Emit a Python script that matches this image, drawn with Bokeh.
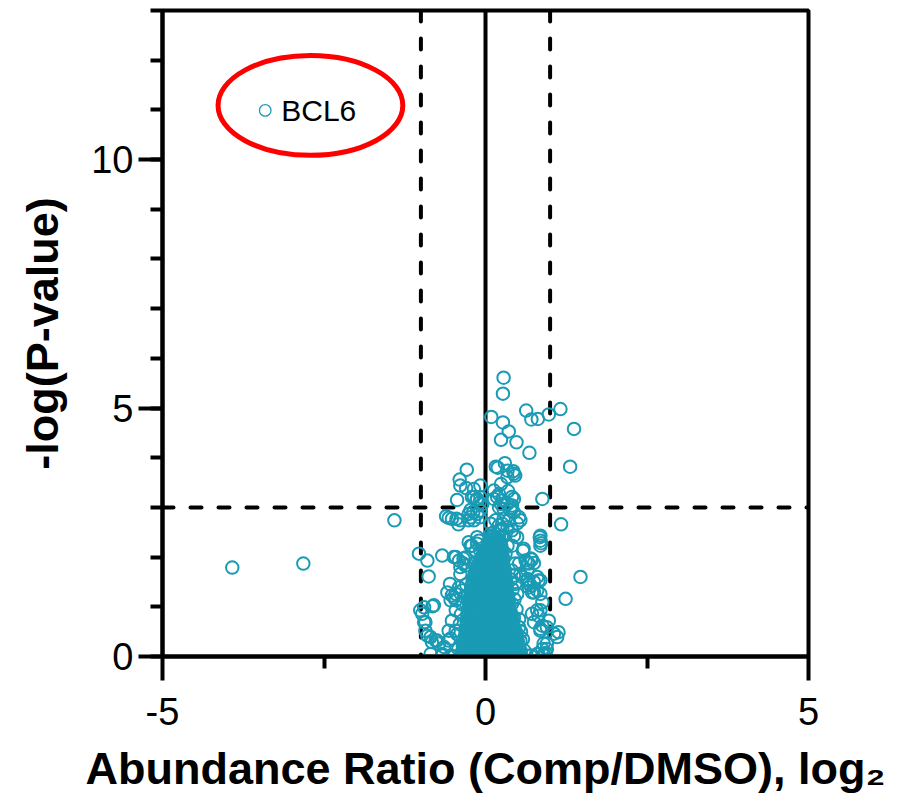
from bokeh.plotting import figure
from bokeh.models import Range1d, FixedTicker, Span, Title
from bokeh.embed import file_html
from bokeh.resources import INLINE
from bokeh.core.properties import value

# ---------------- data ----------------
# sparse proteins (log2 ratio, -log P)
upper_x = [0.28, 0.27, 0.63, 1.16, 0.98, 0.71, 0.81, 0.09, 0.27, 0.36, 1.37, 0.24, 0.48, 0.68, 1.31,
           0.30, 0.16, 0.19, 0.34, 0.43, 0.46, 0.44, 0.34,
           -0.29, -0.40, -0.30, -0.39, -0.08, -0.18, 0.24, 0.35, 0.13, 0.21, 0.18, 0.26, 0.34, 0.41,
           0.41, 0.44, 0.24, 0.13, 0.28, 0.39, 0.21, 0.40,
           -0.18, -0.14, -0.09, -0.08, -0.05, -0.13, -0.21, -0.44, 0.88,
           -0.23, -0.26, -0.19, -0.08, -0.13, -0.61, -0.57, -0.52, -0.45, -0.42, -0.39, -0.09, -0.23,
           -0.26, -0.18,
           0.44, 0.52, 0.54, 0.49, 0.36, 0.28, 0.26, 0.34, 0.21, 0.41, 0.155, 0.21, 0.26, 0.13, 0.08,
           1.17, -1.41, -3.92, -2.82]
upper_y = [5.61, 5.29, 4.95, 4.98, 4.87, 4.77, 4.78, 4.82, 4.71, 4.53, 4.58, 4.36, 4.31, 4.10, 3.82,
           3.89, 3.82, 3.80, 3.74, 3.73, 3.64, 3.68, 3.61,
           3.76, 3.56, 3.39, 3.44, 3.44, 3.37, 3.47, 3.33, 3.34, 3.27, 3.21, 3.14, 3.07, 3.04,
           3.21, 3.17, 3.07, 3.17, 2.97, 2.94, 3.00, 3.00,
           3.21, 3.15, 3.10, 3.21, 3.07, 3.17, 3.21, 3.15, 3.17,
           2.95, 2.87, 2.90, 2.94, 2.87, 2.82, 2.79, 2.77, 2.77, 2.66, 2.74, 2.80, 2.80,
           2.74, 2.74,
           2.90, 2.80, 2.74, 2.68, 2.74, 2.77, 2.67, 2.60, 2.54, 2.54, 2.74, 2.64, 2.57, 2.50, 2.67,
           2.66, 2.74, 1.79, 1.87]

mid_x = [0.28, 0.18, 0.23, 0.34, 0.13, 0.21, 0.31, 0.08, 0.49, 0.44, 0.41, 0.59, 0.58, 0.70, 0.62,
         0.72, 0.65, 0.85, 0.85, 0.84, 0.86, 0.85,
         -0.13, 0.08, -0.26, -0.21, -0.13, -0.08, -0.23, -0.10, -0.15,
         -1.03, -0.90, -0.67, -0.46, -0.41, -0.34, -0.31, -0.31, -0.39, -0.10, -0.18, -0.49, -0.34,
         0.46, 0.41, 0.52, 0.67, 0.75, 0.65]
mid_y = [2.43, 2.37, 2.30, 2.23, 2.20, 2.10, 2.07, 2.40, 2.40, 2.43, 2.23, 2.17, 2.13, 1.97, 1.93,
         1.95, 1.88, 2.43, 2.33, 2.40, 2.28, 2.23,
         2.40, 2.47, 2.30, 2.23, 2.27, 2.13, 2.23, 2.33, 2.13,
         2.07, 1.93, 2.03, 2.00, 1.93, 1.97, 1.99, 1.83, 1.80, 1.80, 1.87, 2.00, 1.87,
         1.87, 1.73, 1.87, 1.87, 1.88, 1.73]

lower_x = [0.44, 0.54, 0.57, 0.65, 0.75, 0.82, 0.85, 0.80, 0.67, 0.65, 0.67, 0.80, 0.72, 0.85, 0.70,
           0.75, 0.46, 0.49, 0.41, 0.44, 0.52, 0.54,
           1.47, 1.24,
           0.88, 0.80, 0.85, 0.82, 0.72, 0.75, 0.98, 0.95, 0.85, 0.88, 0.85, 1.06, 1.11, 1.13, 0.90,
           0.95, 0.95, 0.88, 0.82, 0.90, 0.93, 0.80, 0.70,
           -0.88, -0.55, -0.59, -0.46, -0.36, -0.46, -0.52, -0.54, -0.39, -0.41, -0.49, -0.46, -0.52,
           -0.46, -0.57, -0.57, -0.54, -0.64,
           -1.01, -0.95, -0.80, -0.98, -0.82, -0.93, -0.95, -0.93, -0.90, -0.85, -0.83, -0.77, -0.75,
           -0.72, -0.85, -0.67, -0.49, -0.67, -0.54,
           -0.42, -0.44, -0.40, -0.38, -0.36, -0.33, -0.30, 0.60, 0.58, 0.55, 0.52, 0.48, 0.45, 0.42,
           0.40]
lower_y = [1.63, 1.66, 1.60, 1.56, 1.50, 1.53, 1.53, 1.60, 1.46, 1.53, 1.39, 1.33, 1.29, 1.26, 1.43,
           1.29, 1.46, 1.26, 1.06, 0.79, 0.59, 0.32,
           1.60, 1.16,
           1.09, 0.93, 0.93, 0.82, 0.86, 0.69, 0.72, 0.59, 0.56, 0.62, 0.52, 0.46, 0.39, 0.49, 0.26,
           0.26, 0.15, 0.15, 0.05, 0.05, 0.07, 0.05, 0.02,
           1.61, 1.46, 1.29, 1.26, 1.33, 1.13, 1.23, 1.13, 1.66, 1.39, 1.19, 0.93, 0.72,
           0.52, 0.32, 0.52, 0.36, 0.19,
           0.93, 0.99, 1.03, 0.86, 1.01, 0.69, 0.69, 0.52, 0.42, 0.39, 0.29, 0.32, 0.32,
           0.26, 0.05, 0.02, 0.00, 0.05, 0.02,
           0.15, 0.45, 0.65, 0.85, 1.05, 1.20, 1.45, 0.12, 0.35, 0.50, 0.75, 0.95, 1.15, 1.35,
           1.55]

# dense core of unchanged proteins, read row by row (-log P level, log2 ratios)
core_levels = [0.01, 0.10, 0.20, 0.30, 0.40, 0.50, 0.60, 0.70, 0.80, 0.90, 1.00, 1.10, 1.20,
               1.30, 1.40, 1.50, 1.60, 1.70, 1.80, 1.90, 2.00, 2.10, 2.20, 2.30, 2.40]
core_rows = [
    [-0.38, -0.31, -0.25, -0.19, -0.13, -0.07, -0.01, 0.05, 0.11, 0.17, 0.23, 0.29, 0.35, 0.41, 0.47, 0.53],
    [-0.36, -0.29, -0.22, -0.16, -0.10, -0.04, 0.02, 0.08, 0.14, 0.20, 0.26, 0.32, 0.38, 0.44, 0.50, 0.55],
    [-0.35, -0.28, -0.21, -0.15, -0.09, -0.03, 0.03, 0.09, 0.15, 0.21, 0.27, 0.33, 0.39, 0.45, 0.51],
    [-0.33, -0.26, -0.20, -0.14, -0.08, -0.02, 0.04, 0.10, 0.16, 0.22, 0.28, 0.34, 0.40, 0.46, 0.50],
    [-0.32, -0.25, -0.18, -0.12, -0.06, 0.00, 0.06, 0.12, 0.18, 0.24, 0.30, 0.36, 0.42, 0.48],
    [-0.31, -0.24, -0.17, -0.11, -0.05, 0.01, 0.07, 0.13, 0.19, 0.25, 0.31, 0.37, 0.43, 0.47],
    [-0.30, -0.23, -0.16, -0.10, -0.04, 0.02, 0.08, 0.14, 0.20, 0.26, 0.32, 0.38, 0.44],
    [-0.29, -0.22, -0.15, -0.09, -0.03, 0.03, 0.09, 0.15, 0.21, 0.27, 0.33, 0.39, 0.43],
    [-0.28, -0.21, -0.14, -0.08, -0.02, 0.04, 0.10, 0.16, 0.22, 0.28, 0.34, 0.40],
    [-0.27, -0.20, -0.13, -0.07, -0.01, 0.05, 0.11, 0.17, 0.23, 0.29, 0.35, 0.39],
    [-0.26, -0.19, -0.12, -0.06, 0.00, 0.06, 0.12, 0.18, 0.24, 0.30, 0.36],
    [-0.25, -0.18, -0.11, -0.05, 0.01, 0.07, 0.13, 0.19, 0.25, 0.31, 0.36],
    [-0.24, -0.17, -0.10, -0.04, 0.02, 0.08, 0.14, 0.20, 0.26, 0.32, 0.35],
    [-0.23, -0.16, -0.09, -0.03, 0.03, 0.09, 0.15, 0.21, 0.27, 0.33],
    [-0.22, -0.15, -0.08, -0.02, 0.04, 0.10, 0.16, 0.22, 0.28, 0.33],
    [-0.20, -0.13, -0.07, -0.01, 0.05, 0.11, 0.17, 0.23, 0.29, 0.32],
    [-0.18, -0.11, -0.05, 0.01, 0.07, 0.13, 0.19, 0.25, 0.31],
    [-0.16, -0.09, -0.03, 0.03, 0.09, 0.15, 0.21, 0.27, 0.30],
    [-0.13, -0.07, -0.01, 0.05, 0.11, 0.17, 0.23, 0.28],
    [-0.10, -0.04, 0.02, 0.08, 0.14, 0.20, 0.26],
    [-0.06, 0.00, 0.06, 0.12, 0.18, 0.24, 0.27],
    [-0.02, 0.04, 0.10, 0.16, 0.22, 0.26],
    [0.02, 0.08, 0.14, 0.20, 0.25],
    [0.06, 0.12, 0.18, 0.23],
    [0.10, 0.16, 0.21],
]
core2_levels = [0.05, 0.15, 0.25, 0.35, 0.45, 0.55, 0.65, 0.75, 0.85, 0.95, 1.05, 1.15, 1.25,
                1.35, 1.45, 1.55, 1.65, 1.75, 1.85, 1.95, 2.05, 2.15, 2.25, 2.35]
core2_rows = [
    [-0.37, -0.30, -0.24, -0.18, -0.12, -0.06, 0.00, 0.06, 0.12, 0.18, 0.24, 0.30, 0.36, 0.42, 0.48, 0.54],
    [-0.35, -0.27, -0.19, -0.13, -0.07, -0.01, 0.05, 0.11, 0.17, 0.23, 0.29, 0.35, 0.41, 0.47, 0.53],
    [-0.34, -0.25, -0.18, -0.12, -0.06, 0.00, 0.06, 0.12, 0.18, 0.24, 0.30, 0.36, 0.42, 0.48],
    [-0.32, -0.23, -0.17, -0.11, -0.05, 0.01, 0.07, 0.13, 0.19, 0.25, 0.31, 0.37, 0.43, 0.49],
    [-0.30, -0.22, -0.15, -0.09, -0.03, 0.03, 0.09, 0.15, 0.21, 0.27, 0.33, 0.39, 0.45],
    [-0.29, -0.21, -0.14, -0.08, -0.02, 0.04, 0.10, 0.16, 0.22, 0.28, 0.34, 0.40, 0.45],
    [-0.28, -0.20, -0.13, -0.07, -0.01, 0.05, 0.11, 0.17, 0.23, 0.29, 0.35, 0.41],
    [-0.27, -0.19, -0.12, -0.06, 0.00, 0.06, 0.12, 0.18, 0.24, 0.30, 0.36, 0.41],
    [-0.26, -0.18, -0.11, -0.05, 0.01, 0.07, 0.13, 0.19, 0.25, 0.31, 0.37],
    [-0.25, -0.17, -0.10, -0.04, 0.02, 0.08, 0.14, 0.20, 0.26, 0.32, 0.37],
    [-0.24, -0.16, -0.09, -0.03, 0.03, 0.09, 0.15, 0.21, 0.27, 0.33],
    [-0.23, -0.15, -0.08, -0.02, 0.04, 0.10, 0.16, 0.22, 0.28, 0.34],
    [-0.22, -0.14, -0.07, -0.01, 0.05, 0.11, 0.17, 0.23, 0.29, 0.33],
    [-0.21, -0.13, -0.06, 0.00, 0.06, 0.12, 0.18, 0.24, 0.30],
    [-0.20, -0.12, -0.05, 0.01, 0.07, 0.13, 0.19, 0.25, 0.30],
    [-0.18, -0.10, -0.04, 0.02, 0.08, 0.14, 0.20, 0.26, 0.30],
    [-0.16, -0.08, -0.02, 0.04, 0.10, 0.16, 0.22, 0.28],
    [-0.14, -0.06, 0.00, 0.06, 0.12, 0.18, 0.24, 0.28],
    [-0.11, -0.04, 0.02, 0.08, 0.14, 0.20, 0.26],
    [-0.08, -0.01, 0.05, 0.11, 0.17, 0.23],
    [-0.04, 0.03, 0.09, 0.15, 0.21, 0.25],
    [0.00, 0.07, 0.13, 0.19, 0.24],
    [0.04, 0.10, 0.16, 0.22],
    [0.08, 0.14, 0.20],
]

bcl6_x = [-3.41]
bcl6_y = [10.99]
bcl6_name = ["BCL6"]

highlight_x = [-2.71]
highlight_y = [11.09]
highlight_w = [2.86]
highlight_h = [2.01]

fc_cutoffs = [-1, 1]
p_cutoff = 3

x_ticks = [-5, 0, 5]
x_tick_labels = ["-5", "0", "5"]
x_minor = [-2.5, 2.5]
y_ticks = [0, 5, 10]
y_minor = [0, 1, 2, 3, 4, 5, 6, 7, 8, 9, 10, 11, 12, 13]

x_title = "Abundance Ratio (Comp/DMSO), log\u2082"
y_title = "-log(P-value)"

# ---------------- build ----------------
core_x = [x for row in core_rows for x in row] + [x for row in core2_rows for x in row]
core_y = ([lv for lv, row in zip(core_levels, core_rows) for _ in row] +
          [lv for lv, row in zip(core2_levels, core2_rows) for _ in row])

all_x = upper_x + mid_x + lower_x + core_x
all_y = upper_y + mid_y + lower_y + core_y

TEAL = "#1a9bb5"
FONT = "Liberation Sans"

p = figure(width=910, height=802, x_range=Range1d(-5, 5), y_range=Range1d(0, 13),
           output_backend="svg", toolbar_location=None,
           min_border_left=162, min_border_top=10, min_border_right=102, min_border_bottom=146)

p.grid.visible = False
p.outline_line_color = "black"
p.outline_line_width = 4
p.background_fill_color = "white"
p.border_fill_color = "white"

# reference lines
p.add_layout(Span(location=0, dimension="height", line_color="black", line_width=4, level="underlay"))
for c in fc_cutoffs:
    p.add_layout(Span(location=c, dimension="height", line_color="black", line_width=4,
                      line_dash="11 17", line_cap="round", level="underlay"))
p.add_layout(Span(location=p_cutoff, dimension="width", line_color="black", line_width=4,
                  line_dash="11 17", line_cap="round", level="underlay"))

p.scatter(all_x, all_y, marker="circle", size=12.5, fill_color=None,
          line_color=TEAL, line_width=2)

p.scatter(bcl6_x, bcl6_y, marker="circle", size=11.5, fill_color=None,
          line_color=TEAL, line_width=1.3)
p.text(bcl6_x, bcl6_y, text=bcl6_name, x_offset=16, text_baseline="middle", text_align="left",
       text_font=value(FONT), text_font_size="30px", text_color="black")

p.ellipse(highlight_x, highlight_y, width=highlight_w, height=highlight_h,
          fill_color=None, line_color="#ff0000", line_width=5)

# axes
p.xaxis.ticker = FixedTicker(ticks=x_ticks, minor_ticks=x_minor)
p.yaxis.ticker = FixedTicker(ticks=y_ticks, minor_ticks=y_minor)
p.xaxis.major_label_overrides = dict(zip(x_ticks, x_tick_labels))
for ax in (p.xaxis, p.yaxis):
    ax.axis_line_width = 4
    ax.axis_line_color = "black"
    ax.major_tick_line_width = 4
    ax.minor_tick_line_width = 4
    ax.major_tick_line_color = "black"
    ax.minor_tick_line_color = "black"
    ax.major_tick_in = 0
    ax.minor_tick_in = 0
    ax.major_tick_out = 24
    ax.minor_tick_out = 12
    ax.major_label_text_font = FONT
    ax.major_label_text_font_size = "38px"
    ax.major_label_text_color = "black"

p.xaxis.major_label_standoff = 17
p.yaxis.major_label_standoff = 5

p.yaxis.axis_label = y_title
p.yaxis.axis_label_text_font = FONT
p.yaxis.axis_label_text_font_style = "bold"
p.yaxis.axis_label_text_font_size = "45px"
p.yaxis.axis_label_text_color = "black"
p.yaxis.axis_label_standoff = 20

# spacer between the x tick labels and the x title
p.xaxis.axis_label = " "
p.xaxis.axis_label_text_font_size = "1px"
p.xaxis.axis_label_standoff = 11

# x-axis title, placed below the tick labels
p.add_layout(Title(text=x_title, align="center", vertical_align="top", text_font=FONT,
                   text_font_style="bold", text_font_size="45px", text_color="black",
                   standoff=0), "below")

open("out.html", "w").write(file_html(p, INLINE))
